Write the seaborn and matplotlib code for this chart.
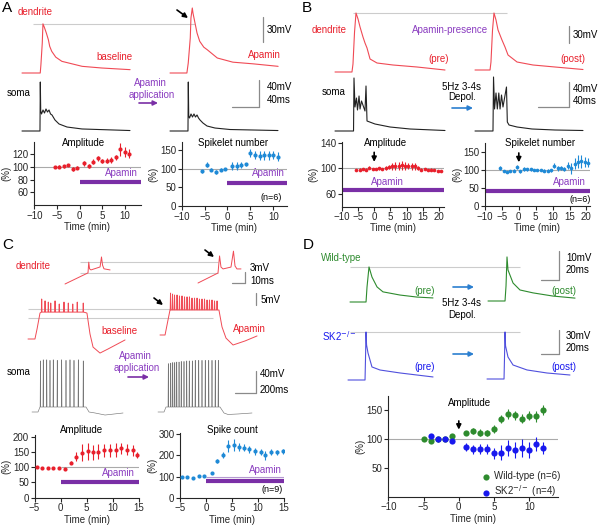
import numpy as np
import pandas as pd
import seaborn as sns
import matplotlib.pyplot as plt

# ---------------- summary data ----------------
a_time = [-5.5, -4.5, -3.5, -2.5, -1.5, -0.5, 1, 2, 3, 4, 5, 6, 7, 8, 9, 10, 11]
a_amp = [100, 100.5, 101, 103, 97, 99, 106, 102, 108, 113.5, 110, 110, 111, 115, 128, 124, 121]
a_amp_err = [2, 2, 2, 2, 3, 2, 4, 3, 4, 4, 3, 4, 4, 4, 10, 8, 7]
a_spk = [93, 111, 98, 91, 98, 100, 107, 107, 110, 112, 143, 138, 135, 136, 136, 137, 132]
a_spk_err = [5, 6, 4, 5, 3, 2, 10, 10, 9, 4, 10, 11, 12, 12, 12, 11, 12]

b_time = [-5.5, -4.5, -3.5, -2.5, -1.5, -0.5, 0.5, 1.5, 2.5, 3.5, 4.5, 5.5, 6.5, 7.5,
          8.5, 9.5, 10.5, 11.5, 12.5, 13.5, 14.5, 15.5, 16.5, 17.5, 18.5, 19.5, 20.5]
b_amp = [97, 98, 99, 98, 101, 99, 99, 100, 99, 101, 102, 103, 104, 104,
         105, 104, 104, 103, 103, 100, 98, 99, 97, 98, 97, 96, 96]
b_amp_err = [2, 2, 2, 2, 2, 2, 2, 2, 2, 3, 3, 5, 6, 6, 7, 6, 5, 5, 5, 3, 2, 2, 2, 2, 2, 2, 2]
b_spk = [106, 98, 96, 97, 99, 108, 97, 104, 103, 102, 101, 100, 100, 99,
         99, 100, 113, 105, 106, 103, 112, 105, 118, 124, 125, 123, 121]
b_spk_err = [5, 3, 3, 3, 3, 6, 4, 5, 4, 4, 3, 3, 3, 3, 4, 4, 8, 6, 6, 6, 10, 15, 15, 18, 18, 15, 12]

c_amp_time = [-4.6, -3.6, -2.5, -1.4, -0.3, 0.9, 2, 3, 4.1, 5.2, 6.2, 7.3, 8.4, 9.5, 10.6, 11.6, 12.7, 13.9, 14.8]
c_amp = [100, 99, 98, 97, 99, 95, 115, 134, 147, 152, 149, 151, 155, 155, 156, 162, 158, 156, 141]
c_amp_err = [2, 2, 2, 2, 2, 3, 6, 15, 28, 28, 25, 25, 22, 22, 22, 18, 18, 18, 10]
c_spk_time = [-4.7, -3.7, -2.5, -1.3, -0.3, 1.1, 2.2, 3.2, 4.2, 5.3, 6.3, 7.4, 8.3, 9.4, 10.5, 11.4, 12.5, 13.6, 14.9]
c_spk = [100, 100, 95, 104, 103, 117, 175, 203, 245, 248, 240, 237, 229, 219, 216, 200, 216, 216, 219]
c_spk_err = [3, 3, 3, 3, 3, 5, 10, 15, 30, 28, 20, 18, 15, 15, 15, 20, 15, 12, 10]

d_wt_time = [-5, -4, -3, -2, -1, 1, 2, 3, 4, 5, 6, 7, 8, 9, 10, 11, 12]
d_wt = [100, 97, 100, 99, 105, 110, 113, 111, 110, 117, 134, 143, 141, 135, 140, 139, 150]
d_wt_err = [2, 3, 3, 2, 3, 4, 5, 6, 5, 7, 7, 8, 8, 8, 8, 9, 8]
d_sk2_time = [-4, -3, -2, -1, 1, 2, 3, 4, 5, 6, 7, 8, 9, 10, 11, 12]
d_sk2 = [105, 99, 99, 97, 86, 82, 82, 82, 75, 76, 84, 81, 84, 81, 91, 84]
d_sk2_err = [4, 4, 3, 3, 7, 8, 9, 9, 9, 13, 14, 14, 15, 14, 12, 10]

# ---------------- example traces (ms, mV relative to baseline) ----------------
a_dend_pre_t = [0, 27, 28, 30, 31, 33, 36, 39, 41, 44, 50, 59, 74, 89, 118, 160]
a_dend_pre_v = [0, 0, 10, 36, 59, 55, 48, 40, 32, 26, 19, 14, 11, 8, 6, 4]
a_dend_post_t = [0, 25, 27, 30, 31, 33, 34, 37, 40, 44, 50, 55, 70, 93, 123, 160]
a_dend_post_v = [0, 0, 12, 42, 66, 78, 72, 60, 48, 38, 31, 28, 18, 13, 11, 8]
a_soma_t = [0, 26.6, 27.1, 27.7, 28.9, 31.1, 33.3, 35.5, 37.7, 40, 42.2, 44.4, 48.8, 54.8, 66.6, 88.8, 159.8]
a_soma_pre_v = [0, 0, 72.5, 29.6, 25.2, 31.1, 26.6, 32.6, 28.1, 31.1, 25.2, 23.7, 16.3, 10.4, 5.9, 3, 0.7]
a_soma_post_v = [0, 0, 72.5, 22.2, 19.2, 25.2, 20.7, 25.2, 20.7, 23.7, 19.2, 16.3, 11.8, 7.4, 4.4, 2.2, 0.7]

b_dend_pre_t = [0, 21.9, 23.2, 25.2, 27.1, 29.7, 32.3, 36.1, 38.7, 41.3, 45.2, 54.2, 74.8, 105.8, 141.9]
b_dend_pre_v = [0, 0, 14.4, 72, 106.2, 95.4, 81, 63, 52.2, 43.2, 23.4, 16.2, 12.6, 9, 3.6]
b_dend_post_t = [0, 19.4, 20.6, 22.6, 24.5, 27.1, 29.7, 34.8, 38.7, 42.6, 54.2, 74.8, 103.2, 139.3]
b_dend_post_v = [0, 0, 14.4, 72, 102.6, 90, 72, 54, 41.4, 27, 14.4, 9, 5.4, 0.9]
b_soma_pre_t = [0, 23.9, 24.5, 25.8, 27.7, 29, 31, 32.3, 34.2, 38.7, 40, 41.3, 51.6, 71, 96.8, 141.9]
b_soma_pre_v = [0, 0, 84.8, 38.4, 52.8, 33.6, 56, 35.2, 48, 32, 72, 16, 11.2, 6.4, 3.2, 0.8]
b_soma_post_t = [0, 23.2, 23.9, 25.2, 27.1, 28.8, 30.7, 32.3, 34.2, 36.1, 40.6, 41.7, 43.9, 54.2, 73.5, 103.2, 139.3]
b_soma_post_v = [0, 0, 86.4, 35.2, 60.8, 35.2, 60.8, 35.2, 57.6, 38.4, 70.4, 14.4, 9.6, 6.4, 3.2, 1.6, 0.8]

c_small_pre_t = [0, 17.7, 18.3, 18.9, 20, 27, 28.1, 28.9, 30, 34.7]
c_small_pre_v = [0, 3.0, 5.9, 4.1, 3.8, 4.6, 7.3, 5.1, 4.1, 3.8]
c_small_post_t = [0, 15.4, 16.6, 17.7, 19.3, 25.4, 27.3, 28.5, 30, 33.1]
c_small_post_v = [0, 2.7, 7.3, 4.3, 3.8, 4.3, 8.6, 4.6, 3.8, 3.8]

c_dend_pre_ramp_t = [0, 66, 86, 114]
c_dend_pre_ramp_v = [0, 0, 4.2, 10.9]
c_dend_pre_spike_t = [130, 162, 193, 216, 257, 297, 342, 383, 425, 468, 525]
c_dend_pre_spike_v = [16.8, 16, 15.5, 15.1, 16, 14.7, 15.5, 15.1, 14.7, 15.5, 15.1]
c_dend_pre_end_t = [560, 589, 618, 684, 760, 922]
c_dend_pre_end_v = [10.9, 2.1, -3.4, -5.9, -4.2, -0.4]
c_dend_post_ramp_t = [0, 48, 76, 95]
c_dend_post_ramp_v = [0, 0, 6.3, 10.5]
c_dend_post_spike_t = [100, 119, 138, 162, 185, 209, 233, 257, 280, 304, 328, 352, 375, 399, 423, 447, 470, 494, 518, 542]
c_dend_post_spike_v = [17.6, 17.2, 16.8, 16.8, 16.4, 16.4, 16, 16, 16, 15.5, 15.5, 15.5, 15.1, 15.1, 15.1, 14.7, 14.7, 14.7, 14.3, 14.3]
c_dend_post_end_t = [560, 589, 627, 694, 808, 922]
c_dend_post_end_v = [10.5, 3.4, -1.3, -4.2, -2.5, -0.4]

c_soma_pre_spike_t = [80, 107, 140, 171, 202, 240, 282, 323, 361, 399, 440, 487]
c_soma_pre_spike_v = [93, 95, 95, 94, 95, 94, 95, 94, 95, 94, 95, 93]
c_soma_pre_end_t = [513, 542, 599, 694, 865]
c_soma_pre_end_v = [9.1, 0, -1.8, -5.5, -1.8]
c_soma_post_spike_t = [98, 121, 140, 159, 178, 200, 221, 247, 273, 297, 326, 354, 387, 418, 449, 482, 513, 544, 573]
c_soma_post_spike_v = [88, 89, 90, 90, 91, 91, 92, 92, 93, 93, 93, 94, 94, 94, 94, 94, 94, 94, 94]
c_soma_post_end_t = [589, 627, 665, 760, 893]
c_soma_post_end_v = [9.1, -1.8, -4.5, -3.6, -1.8]
c_soma_ramp_t = [0, 57, 76]
c_soma_ramp_v = [0, 0, 9.1]

d_wt_pre_t = [0, 17.8, 18.9, 21.1, 24.4, 30, 36.6, 55.5, 74.4, 92.1]
d_wt_pre_v = [0, 0, 5.2, 12.1, 8.6, 5.2, 3.5, 2.4, 1.7, 1.4]
d_wt_post_t = [0, 18.9, 20, 21.1, 22.2, 27.8, 35.5, 50, 72.2, 96.6]
d_wt_post_v = [0, 0, 5.2, 15.2, 10.7, 6.2, 3.8, 2.8, 1.7, 1]
d_sk_pre_t = [0, 18.9, 19.4, 20, 20.6, 22.2, 26.6, 35.5, 57.7, 94.4]
d_sk_pre_v = [0, 0, 25, 60, 43.8, 33.8, 16.3, 12.5, 8.8, 3.8]
d_sk_post_t = [0, 18.9, 19.4, 20, 20.6, 23.3, 28.9, 44.4, 66.6, 92.1]
d_sk_post_v = [0, 0, 25, 58.8, 41.3, 27.5, 17.5, 11.3, 7.5, 5]

# ---------------- style ----------------
RED = "#e8202c"
TRED = "#f04a55"
PURPLE = "#7a2fa6"
PTXT = "#8a3cc0"
SBLUE = "#1f8ad6"
ABLUE = "#2b7fd0"
GREEN = "#2e8b2e"
SKBLUE = "#1818ee"
SKTRACE = "#5050dd"
REF = "#cccccc"
BAR = "#8a8a8a"

sns.set_style("ticks")
plt.rcParams["font.family"] = ["Liberation Sans", "DejaVu Sans"]
plt.rcParams["font.size"] = 7
plt.rcParams["axes.linewidth"] = 0.8

W, H = 600, 525
fig = plt.figure(figsize=(6, 5.25), dpi=100)

ov = fig.add_axes([0, 0, 1, 1])
ov.set_xlim(0, W)
ov.set_ylim(H, 0)
ov.axis("off")


def px_axes(left, top, right, bottom):
    return fig.add_axes([left / W, 1 - bottom / H, (right - left) / W, (bottom - top) / H])


def trace_row(left, top, right, bottom, base_y, ms_px, mv_px):
    ax = px_axes(left, top, right, bottom)
    ax.set_xlim(0, (right - left) * ms_px)
    ax.set_ylim(-(bottom - base_y) * mv_px, (base_y - top) * mv_px)
    ax.axis("off")
    ax.scale = (left, base_y, ms_px, mv_px)
    return ax


def to_data(ax, x, y):
    left, base_y, ms_px, mv_px = ax.scale
    return (x - left) * ms_px, (base_y - y) * mv_px


def draw_trace(ax, t, v, x, y, color, lw=0.8):
    t0, v0 = to_data(ax, x, y)
    df = pd.DataFrame({"t": np.asarray(t, float) + t0, "v": np.asarray(v, float) + v0})
    sns.lineplot(data=df, x="t", y="v", ax=ax, color=color, lw=lw,
                 estimator=None, sort=False)
    return v0


def ref_line(ax, level, x1, x2):
    t1 = to_data(ax, x1, 0)[0]
    t2 = to_data(ax, x2, 0)[0]
    ax.hlines(level, t1, t2, color=REF, lw=0.8, zorder=0)


def scalebar(ax, x, y, ms=None, mv=None):
    t0, v0 = to_data(ax, x, y)
    if mv:
        ax.plot([t0, t0], [v0, v0 + mv], color=BAR, lw=0.9, clip_on=False)
    if ms:
        ax.plot([t0 - ms, t0], [v0, v0], color=BAR, lw=0.9, clip_on=False)


def plateau(ramp_t, ramp_v, spike_t, spike_v, base, end_t, end_v, half=3):
    t, v = list(ramp_t), list(ramp_v)
    for st, sv in zip(spike_t, spike_v):
        t += [st - half, st, st + half]
        v += [base, sv, base]
    return t + list(end_t), v + list(end_v)


def txt(x, y, s, color="k", ha="left", size=7, **kw):
    ov.text(x, y, s, color=color, ha=ha, va="center", fontsize=size, **kw)


ARROW = dict(arrowstyle="-|>", lw=1.2, mutation_scale=7, shrinkA=0, shrinkB=0)


def arrow(x1, y1, x2, y2, color="k"):
    ov.annotate("", xy=(x2, y2), xytext=(x1, y1), arrowprops=dict(ARROW, color=color))


def stat_arrow(ax, y_from, y_to):
    ax.annotate("", xy=(0, y_to), xytext=(0, y_from), arrowprops=dict(ARROW, color="k"))


def stat_axes(box, xlim, ylim, xticks, yticks):
    ax = px_axes(*box)
    ax.patch.set_alpha(0)
    ax.set_xlim(*xlim)
    ax.set_ylim(*ylim)
    ax.set_xticks(xticks)
    ax.set_yticks(yticks)
    sns.despine(ax=ax)
    ax.tick_params(labelsize=7, length=3, width=0.8, pad=1)
    ax.set_xlabel("Time (min)", fontsize=7, labelpad=1)
    ax.set_ylabel("(%)", fontsize=7, labelpad=1)
    return ax


def points(ax, t, v, err, color, s=9, label=None):
    ax.errorbar(t, v, yerr=err, fmt="none", ecolor=color, elinewidth=0.8, capsize=0)
    sns.scatterplot(x=t, y=v, ax=ax, color=color, s=s, linewidth=0, label=label, zorder=3)


# ================= Panel A =================
ax = trace_row(15, 0, 290, 80, 73, 1.48, 1.2)
draw_trace(ax, a_dend_pre_t, a_dend_pre_v, 22, 73, TRED)
draw_trace(ax, a_dend_post_t, a_dend_post_v, 170, 73, TRED)
ref_line(ax, max(a_dend_pre_v), 33, 195)
scalebar(ax, 263, 42, mv=30)

ax = trace_row(15, 75, 290, 138, 131, 1.48, 1.48)
draw_trace(ax, a_soma_t, a_soma_pre_v, 22, 131, "#222222")
draw_trace(ax, a_soma_t, a_soma_post_v, 170, 131, "#222222")
scalebar(ax, 259, 107, ms=40, mv=40)

txt(2, 8, "A", size=11)
txt(18, 12, "dendrite", RED)
txt(96, 57, "baseline", RED)
txt(248, 55, "Apamin", RED)
txt(267, 30, "30mV")
txt(7, 93, "soma")
txt(150, 83, "Apamin", PTXT, ha="center")
txt(152, 95, "application", PTXT, ha="center")
arrow(139, 103, 158, 103, PURPLE)
arrow(177, 10, 188, 18)
txt(267, 87, "40mV")
txt(267, 100, "40ms")

ax = stat_axes((34.3, 141.6, 140.7, 205), (-10, 13.5), (40, 140), [-10, -5, 0, 5, 10], [60, 80, 100, 120])
ax.axhline(100, color="#aaaaaa", lw=0.8, zorder=0)
ax.hlines(77, 0, 13.5, color=PURPLE, lw=3, clip_on=False)
points(ax, a_time, a_amp, a_amp_err, RED)
txt(84, 143, "Amplitude", ha="center")
txt(121, 173, "Apamin", PTXT, ha="center")

ax = stat_axes((181.7, 142, 287, 206), (-10, 13), (0, 172), [-10, -5, 0, 5, 10], [0, 50, 100, 150])
ax.axhline(100, color="#aaaaaa", lw=0.8, zorder=0)
ax.hlines(63, 0, 13, color=PURPLE, lw=3, clip_on=False)
points(ax, a_time, a_spk, a_spk_err, SBLUE)
txt(233, 143, "Spikelet number", ha="center")
txt(268, 173, "Apamin", PTXT, ha="center")
txt(271, 197, "(n=6)", ha="center", size=6.5)

# ================= Panel B =================
ax = trace_row(305, 0, 595, 80, 72, 1.29, 1.8)
v0 = draw_trace(ax, b_dend_pre_t, b_dend_pre_v, 335, 72, TRED)
draw_trace(ax, b_dend_post_t, b_dend_post_v, 475, 70, TRED)
ref_line(ax, v0 + max(b_dend_pre_v), 353, 507)
scalebar(ax, 569, 43, mv=30)

ax = trace_row(305, 75, 595, 138, 131, 1.29, 1.6)
draw_trace(ax, b_soma_pre_t, b_soma_pre_v, 335, 131, "#222222")
draw_trace(ax, b_soma_post_t, b_soma_post_v, 475, 131, "#222222")
scalebar(ax, 569, 107, ms=40, mv=40)

txt(302, 8, "B", size=11)
txt(312, 30, "dendrite", RED)
txt(412, 30, "Apamin-presence", PTXT)
txt(428, 59, "(pre)", RED)
txt(560, 59, "(post)", RED)
txt(573, 35, "30mV")
txt(322, 92, "soma")
txt(462, 87, "5Hz 3-4s", ha="center")
txt(462, 97, "Depol.", ha="center")
arrow(452, 108, 473, 108, ABLUE)
txt(573, 89, "40mV")
txt(573, 101, "40ms")

ax = stat_axes((341.7, 141.5, 444, 206.5), (-10, 21.5), (40, 142), [-10, -5, 0, 5, 10, 15, 20], [60, 100, 140])
ax.axhline(100, color="#aaaaaa", lw=0.8, zorder=0)
ax.hlines(66, -10, 21.5, color=PURPLE, lw=3, clip_on=False)
points(ax, b_time, b_amp, b_amp_err, RED, s=7)
stat_arrow(ax, 125, 110)
txt(386, 143, "Amplitude", ha="center")
txt(387, 182, "Apamin", PTXT, ha="center")

ax = stat_axes((485, 143.3, 589.8, 206), (-10, 21), (0, 175), [-10, -5, 0, 5, 10, 15, 20], [0, 50, 100, 150])
ax.axhline(100, color="#aaaaaa", lw=0.8, zorder=0)
ax.hlines(42, -10, 21, color=PURPLE, lw=3, clip_on=False)
points(ax, b_time, b_spk, b_spk_err, SBLUE, s=7)
stat_arrow(ax, 148, 122)
txt(540, 143, "Spikelet number", ha="center")
txt(569, 182, "Apamin", PTXT, ha="center")
txt(580, 199, "(n=6)", ha="center", size=6.5)

# ================= Panel C =================
ax = trace_row(60, 245, 290, 290, 284, 0.77, 0.27)
draw_trace(ax, c_small_pre_t, c_small_pre_v, 65, 284, TRED, lw=0.7)
draw_trace(ax, c_small_post_t, c_small_post_v, 198, 283, TRED, lw=0.7)
ref_line(ax, max(c_small_pre_v[:4]), 80, 218)
ref_line(ax, c_small_pre_v[1], 80, 218)
scalebar(ax, 245, 283, ms=10, mv=3)

ax = trace_row(20, 285, 290, 360, 339, 9.5, 0.42)
t, v = plateau(c_dend_pre_ramp_t, c_dend_pre_ramp_v, c_dend_pre_spike_t, c_dend_pre_spike_v,
               11.3, c_dend_pre_end_t, c_dend_pre_end_v)
draw_trace(ax, t, v, 28, 339, TRED, lw=0.7)
t, v = plateau(c_dend_post_ramp_t, c_dend_post_ramp_v, c_dend_post_spike_t, c_dend_post_spike_v,
               10.5, c_dend_post_end_t, c_dend_post_end_v)
draw_trace(ax, t, v, 160, 335, TRED, lw=0.7)
for lvl in [12.6, 8.8]:
    ref_line(ax, lvl, 28, 213)
scalebar(ax, 256, 305, mv=5)

ax = trace_row(20, 340, 290, 420, 412, 9.5, 1.82)
t, v = plateau(c_soma_ramp_t, c_soma_ramp_v, c_soma_pre_spike_t, c_soma_pre_spike_v,
               9.1, c_soma_pre_end_t, c_soma_pre_end_v, half=2.5)
draw_trace(ax, t, v, 32, 412, "#777777", lw=0.45)
t, v = plateau(c_soma_ramp_t, c_soma_ramp_v, c_soma_post_spike_t, c_soma_post_spike_v,
               9.1, c_soma_post_end_t, c_soma_post_end_v, half=2.5)
draw_trace(ax, t, v, 158, 412, "#777777", lw=0.45)
scalebar(ax, 256, 393, ms=200, mv=40)

txt(2, 245, "C", size=11)
txt(16, 266, "dendrite", RED)
txt(250, 268, "3mV")
txt(250, 281, "10ms")
txt(261, 300, "5mV")
txt(101, 331, "baseline", RED)
txt(233, 329, "Apamin", RED)
arrow(205, 250, 214, 257)
arrow(154, 298, 163, 305)
txt(7, 372, "soma")
txt(135, 356, "Apamin", PTXT, ha="center")
txt(137, 368, "application", PTXT, ha="center")
arrow(128, 377, 149, 377, PURPLE)
txt(260, 374, "40mV")
txt(260, 390, "200ms")

ax = stat_axes((34.5, 435.2, 138.5, 497.7), (-5, 15), (0, 205), [-5, 0, 5, 10, 15], [0, 50, 100, 150, 200])
ax.hlines(100, 0, 15, color="#aaaaaa", lw=0.8, zorder=0)
ax.hlines(51, 0, 15, color=PURPLE, lw=3, clip_on=False)
points(ax, c_amp_time, c_amp, c_amp_err, RED)
txt(82, 430, "Amplitude", ha="center")
txt(118, 473, "Apamin", PTXT, ha="center")

ax = stat_axes((180, 433.3, 284, 497.7), (-5, 15), (0, 305), [-5, 0, 5, 10, 15], [0, 100, 200, 300])
ax.hlines(100, 0, 15, color="#b59ad0", lw=0.8, zorder=0)
ax.hlines(79, 0, 15, color=PURPLE, lw=3, clip_on=False)
points(ax, c_spk_time, c_spk, c_spk_err, SBLUE)
txt(232, 430, "Spike count", ha="center")
txt(265, 470, "Apamin", PTXT, ha="center")
txt(272, 489, "(n=9)", ha="center", size=6.5)

# ================= Panel D =================
ax = trace_row(345, 245, 595, 310, 302, 1.11, 0.345)
draw_trace(ax, d_wt_pre_t, d_wt_pre_v, 350, 302, GREEN)
draw_trace(ax, d_wt_post_t, d_wt_post_v, 488, 301, GREEN)
ref_line(ax, max(d_wt_pre_v), 350, 520)
scalebar(ax, 559, 280, ms=20, mv=10)

ax = trace_row(345, 320, 595, 385, 380, 1.11, 1.25)
draw_trace(ax, d_sk_pre_t, d_sk_pre_v, 348, 380, SKTRACE)
draw_trace(ax, d_sk_post_t, d_sk_post_v, 487, 379, SKTRACE)
ref_line(ax, max(d_sk_pre_v), 350, 520)
scalebar(ax, 559, 354, ms=20, mv=30)

txt(303, 245, "D", size=11)
txt(321, 258, "Wild-type", GREEN)
txt(414, 291, "(pre)", GREEN)
txt(551, 291, "(post)", GREEN)
arrow(453, 287, 474, 287, ABLUE)
txt(462, 303, "5Hz 3-4s", ha="center")
txt(462, 315, "Depol.", ha="center")
txt(566, 258, "10mV")
txt(566, 270, "20ms")
txt(322, 336, r"SK2$^{-/-}$", SKBLUE)
txt(414, 367, "(pre)", SKBLUE)
txt(551, 367, "(post)", SKBLUE)
arrow(453, 354, 474, 354, ABLUE)
txt(566, 336, "30mV")
txt(566, 348, "20ms")

ax = stat_axes((388.3, 395.5, 557.5, 496.7), (-10, 14), (0, 175), [-10, -5, 0, 5, 10], [50, 100, 150])
ax.axhline(100, color="#aaaaaa", lw=0.8, zorder=0)
points(ax, d_wt_time, d_wt, d_wt_err, GREEN, s=20, label="Wild-type (n=6)")
points(ax, d_sk2_time, d_sk2, d_sk2_err, SKBLUE, s=20, label=r"SK2$^{-/-}$ (n=4)")
stat_arrow(ax, 131, 116)
ax.legend(loc="upper left", bbox_to_anchor=(0.52, 0.30), frameon=False, fontsize=7,
          handletextpad=0.3, borderpad=0, labelspacing=0.25, handlelength=1)
txt(470, 403, "Amplitude", ha="center")

fig.savefig("out.png", dpi=100)
